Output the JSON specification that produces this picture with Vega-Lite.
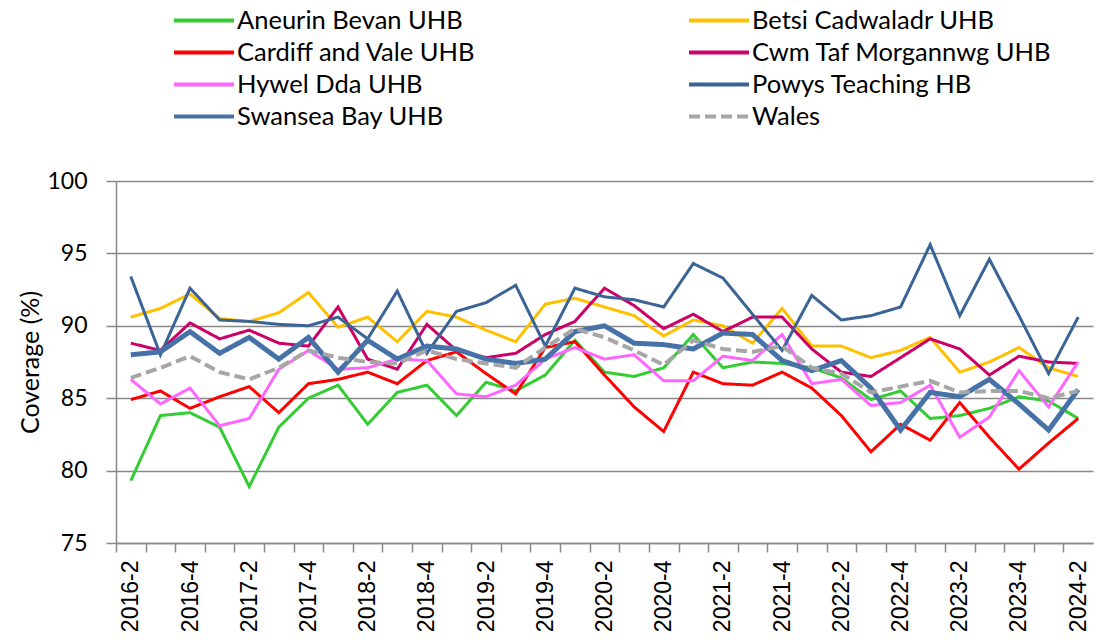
{
  "$schema": "https://vega.github.io/schema/vega-lite/v6.json",
  "width": 977,
  "height": 362,
  "autosize": {"type": "none"},
  "padding": {"left": 116, "top": 181, "right": 4, "bottom": 99},
  "background": "white",
  "config": {"view": {"stroke": null}},
  "data": {"values": [
    {"hb": "Aneurin Bevan UHB", "q": "2016-2", "v": 79.3}, {"hb": "Aneurin Bevan UHB", "q": "2016-3", "v": 83.8}, {"hb": "Aneurin Bevan UHB", "q": "2016-4", "v": 84.0}, {"hb": "Aneurin Bevan UHB", "q": "2017-1", "v": 83.0}, {"hb": "Aneurin Bevan UHB", "q": "2017-2", "v": 78.9}, {"hb": "Aneurin Bevan UHB", "q": "2017-3", "v": 83.0}, {"hb": "Aneurin Bevan UHB", "q": "2017-4", "v": 85.0}, {"hb": "Aneurin Bevan UHB", "q": "2018-1", "v": 85.9}, {"hb": "Aneurin Bevan UHB", "q": "2018-2", "v": 83.2}, {"hb": "Aneurin Bevan UHB", "q": "2018-3", "v": 85.4}, {"hb": "Aneurin Bevan UHB", "q": "2018-4", "v": 85.9}, {"hb": "Aneurin Bevan UHB", "q": "2019-1", "v": 83.8}, {"hb": "Aneurin Bevan UHB", "q": "2019-2", "v": 86.1}, {"hb": "Aneurin Bevan UHB", "q": "2019-3", "v": 85.5}, {"hb": "Aneurin Bevan UHB", "q": "2019-4", "v": 86.6}, {"hb": "Aneurin Bevan UHB", "q": "2020-1", "v": 89.0}, {"hb": "Aneurin Bevan UHB", "q": "2020-2", "v": 86.8}, {"hb": "Aneurin Bevan UHB", "q": "2020-3", "v": 86.5}, {"hb": "Aneurin Bevan UHB", "q": "2020-4", "v": 87.1}, {"hb": "Aneurin Bevan UHB", "q": "2021-1", "v": 89.4}, {"hb": "Aneurin Bevan UHB", "q": "2021-2", "v": 87.1}, {"hb": "Aneurin Bevan UHB", "q": "2021-3", "v": 87.5}, {"hb": "Aneurin Bevan UHB", "q": "2021-4", "v": 87.4}, {"hb": "Aneurin Bevan UHB", "q": "2022-1", "v": 87.1}, {"hb": "Aneurin Bevan UHB", "q": "2022-2", "v": 86.4}, {"hb": "Aneurin Bevan UHB", "q": "2022-3", "v": 84.9}, {"hb": "Aneurin Bevan UHB", "q": "2022-4", "v": 85.5}, {"hb": "Aneurin Bevan UHB", "q": "2023-1", "v": 83.6}, {"hb": "Aneurin Bevan UHB", "q": "2023-2", "v": 83.8}, {"hb": "Aneurin Bevan UHB", "q": "2023-3", "v": 84.3}, {"hb": "Aneurin Bevan UHB", "q": "2023-4", "v": 85.1}, {"hb": "Aneurin Bevan UHB", "q": "2024-1", "v": 84.8}, {"hb": "Aneurin Bevan UHB", "q": "2024-2", "v": 83.6},
    {"hb": "Betsi Cadwaladr UHB", "q": "2016-2", "v": 90.6}, {"hb": "Betsi Cadwaladr UHB", "q": "2016-3", "v": 91.2}, {"hb": "Betsi Cadwaladr UHB", "q": "2016-4", "v": 92.2}, {"hb": "Betsi Cadwaladr UHB", "q": "2017-1", "v": 90.5}, {"hb": "Betsi Cadwaladr UHB", "q": "2017-2", "v": 90.3}, {"hb": "Betsi Cadwaladr UHB", "q": "2017-3", "v": 90.9}, {"hb": "Betsi Cadwaladr UHB", "q": "2017-4", "v": 92.3}, {"hb": "Betsi Cadwaladr UHB", "q": "2018-1", "v": 89.9}, {"hb": "Betsi Cadwaladr UHB", "q": "2018-2", "v": 90.6}, {"hb": "Betsi Cadwaladr UHB", "q": "2018-3", "v": 88.9}, {"hb": "Betsi Cadwaladr UHB", "q": "2018-4", "v": 91.0}, {"hb": "Betsi Cadwaladr UHB", "q": "2019-1", "v": 90.6}, {"hb": "Betsi Cadwaladr UHB", "q": "2019-2", "v": 89.7}, {"hb": "Betsi Cadwaladr UHB", "q": "2019-3", "v": 88.9}, {"hb": "Betsi Cadwaladr UHB", "q": "2019-4", "v": 91.5}, {"hb": "Betsi Cadwaladr UHB", "q": "2020-1", "v": 91.9}, {"hb": "Betsi Cadwaladr UHB", "q": "2020-2", "v": 91.3}, {"hb": "Betsi Cadwaladr UHB", "q": "2020-3", "v": 90.7}, {"hb": "Betsi Cadwaladr UHB", "q": "2020-4", "v": 89.3}, {"hb": "Betsi Cadwaladr UHB", "q": "2021-1", "v": 90.4}, {"hb": "Betsi Cadwaladr UHB", "q": "2021-2", "v": 90.0}, {"hb": "Betsi Cadwaladr UHB", "q": "2021-3", "v": 88.8}, {"hb": "Betsi Cadwaladr UHB", "q": "2021-4", "v": 91.2}, {"hb": "Betsi Cadwaladr UHB", "q": "2022-1", "v": 88.6}, {"hb": "Betsi Cadwaladr UHB", "q": "2022-2", "v": 88.6}, {"hb": "Betsi Cadwaladr UHB", "q": "2022-3", "v": 87.8}, {"hb": "Betsi Cadwaladr UHB", "q": "2022-4", "v": 88.3}, {"hb": "Betsi Cadwaladr UHB", "q": "2023-1", "v": 89.2}, {"hb": "Betsi Cadwaladr UHB", "q": "2023-2", "v": 86.8}, {"hb": "Betsi Cadwaladr UHB", "q": "2023-3", "v": 87.5}, {"hb": "Betsi Cadwaladr UHB", "q": "2023-4", "v": 88.5}, {"hb": "Betsi Cadwaladr UHB", "q": "2024-1", "v": 87.1}, {"hb": "Betsi Cadwaladr UHB", "q": "2024-2", "v": 86.5},
    {"hb": "Cardiff and Vale UHB", "q": "2016-2", "v": 84.9}, {"hb": "Cardiff and Vale UHB", "q": "2016-3", "v": 85.5}, {"hb": "Cardiff and Vale UHB", "q": "2016-4", "v": 84.3}, {"hb": "Cardiff and Vale UHB", "q": "2017-1", "v": 85.1}, {"hb": "Cardiff and Vale UHB", "q": "2017-2", "v": 85.8}, {"hb": "Cardiff and Vale UHB", "q": "2017-3", "v": 84.0}, {"hb": "Cardiff and Vale UHB", "q": "2017-4", "v": 86.0}, {"hb": "Cardiff and Vale UHB", "q": "2018-1", "v": 86.3}, {"hb": "Cardiff and Vale UHB", "q": "2018-2", "v": 86.8}, {"hb": "Cardiff and Vale UHB", "q": "2018-3", "v": 86.0}, {"hb": "Cardiff and Vale UHB", "q": "2018-4", "v": 87.6}, {"hb": "Cardiff and Vale UHB", "q": "2019-1", "v": 88.2}, {"hb": "Cardiff and Vale UHB", "q": "2019-2", "v": 86.7}, {"hb": "Cardiff and Vale UHB", "q": "2019-3", "v": 85.3}, {"hb": "Cardiff and Vale UHB", "q": "2019-4", "v": 88.5}, {"hb": "Cardiff and Vale UHB", "q": "2020-1", "v": 88.9}, {"hb": "Cardiff and Vale UHB", "q": "2020-2", "v": 86.6}, {"hb": "Cardiff and Vale UHB", "q": "2020-3", "v": 84.4}, {"hb": "Cardiff and Vale UHB", "q": "2020-4", "v": 82.7}, {"hb": "Cardiff and Vale UHB", "q": "2021-1", "v": 86.8}, {"hb": "Cardiff and Vale UHB", "q": "2021-2", "v": 86.0}, {"hb": "Cardiff and Vale UHB", "q": "2021-3", "v": 85.9}, {"hb": "Cardiff and Vale UHB", "q": "2021-4", "v": 86.8}, {"hb": "Cardiff and Vale UHB", "q": "2022-1", "v": 85.7}, {"hb": "Cardiff and Vale UHB", "q": "2022-2", "v": 83.8}, {"hb": "Cardiff and Vale UHB", "q": "2022-3", "v": 81.3}, {"hb": "Cardiff and Vale UHB", "q": "2022-4", "v": 83.2}, {"hb": "Cardiff and Vale UHB", "q": "2023-1", "v": 82.1}, {"hb": "Cardiff and Vale UHB", "q": "2023-2", "v": 84.7}, {"hb": "Cardiff and Vale UHB", "q": "2023-3", "v": 82.3}, {"hb": "Cardiff and Vale UHB", "q": "2023-4", "v": 80.1}, {"hb": "Cardiff and Vale UHB", "q": "2024-1", "v": 81.9}, {"hb": "Cardiff and Vale UHB", "q": "2024-2", "v": 83.6},
    {"hb": "Cwm Taf Morgannwg UHB", "q": "2016-2", "v": 88.8}, {"hb": "Cwm Taf Morgannwg UHB", "q": "2016-3", "v": 88.3}, {"hb": "Cwm Taf Morgannwg UHB", "q": "2016-4", "v": 90.2}, {"hb": "Cwm Taf Morgannwg UHB", "q": "2017-1", "v": 89.1}, {"hb": "Cwm Taf Morgannwg UHB", "q": "2017-2", "v": 89.7}, {"hb": "Cwm Taf Morgannwg UHB", "q": "2017-3", "v": 88.8}, {"hb": "Cwm Taf Morgannwg UHB", "q": "2017-4", "v": 88.6}, {"hb": "Cwm Taf Morgannwg UHB", "q": "2018-1", "v": 91.3}, {"hb": "Cwm Taf Morgannwg UHB", "q": "2018-2", "v": 87.7}, {"hb": "Cwm Taf Morgannwg UHB", "q": "2018-3", "v": 87.0}, {"hb": "Cwm Taf Morgannwg UHB", "q": "2018-4", "v": 90.1}, {"hb": "Cwm Taf Morgannwg UHB", "q": "2019-1", "v": 88.3}, {"hb": "Cwm Taf Morgannwg UHB", "q": "2019-2", "v": 87.8}, {"hb": "Cwm Taf Morgannwg UHB", "q": "2019-3", "v": 88.1}, {"hb": "Cwm Taf Morgannwg UHB", "q": "2019-4", "v": 89.4}, {"hb": "Cwm Taf Morgannwg UHB", "q": "2020-1", "v": 90.3}, {"hb": "Cwm Taf Morgannwg UHB", "q": "2020-2", "v": 92.6}, {"hb": "Cwm Taf Morgannwg UHB", "q": "2020-3", "v": 91.4}, {"hb": "Cwm Taf Morgannwg UHB", "q": "2020-4", "v": 89.8}, {"hb": "Cwm Taf Morgannwg UHB", "q": "2021-1", "v": 90.8}, {"hb": "Cwm Taf Morgannwg UHB", "q": "2021-2", "v": 89.6}, {"hb": "Cwm Taf Morgannwg UHB", "q": "2021-3", "v": 90.6}, {"hb": "Cwm Taf Morgannwg UHB", "q": "2021-4", "v": 90.6}, {"hb": "Cwm Taf Morgannwg UHB", "q": "2022-1", "v": 88.4}, {"hb": "Cwm Taf Morgannwg UHB", "q": "2022-2", "v": 86.8}, {"hb": "Cwm Taf Morgannwg UHB", "q": "2022-3", "v": 86.5}, {"hb": "Cwm Taf Morgannwg UHB", "q": "2022-4", "v": 87.8}, {"hb": "Cwm Taf Morgannwg UHB", "q": "2023-1", "v": 89.1}, {"hb": "Cwm Taf Morgannwg UHB", "q": "2023-2", "v": 88.4}, {"hb": "Cwm Taf Morgannwg UHB", "q": "2023-3", "v": 86.6}, {"hb": "Cwm Taf Morgannwg UHB", "q": "2023-4", "v": 87.9}, {"hb": "Cwm Taf Morgannwg UHB", "q": "2024-1", "v": 87.5}, {"hb": "Cwm Taf Morgannwg UHB", "q": "2024-2", "v": 87.4},
    {"hb": "Hywel Dda UHB", "q": "2016-2", "v": 86.3}, {"hb": "Hywel Dda UHB", "q": "2016-3", "v": 84.6}, {"hb": "Hywel Dda UHB", "q": "2016-4", "v": 85.7}, {"hb": "Hywel Dda UHB", "q": "2017-1", "v": 83.1}, {"hb": "Hywel Dda UHB", "q": "2017-2", "v": 83.6}, {"hb": "Hywel Dda UHB", "q": "2017-3", "v": 87.0}, {"hb": "Hywel Dda UHB", "q": "2017-4", "v": 88.3}, {"hb": "Hywel Dda UHB", "q": "2018-1", "v": 87.0}, {"hb": "Hywel Dda UHB", "q": "2018-2", "v": 87.1}, {"hb": "Hywel Dda UHB", "q": "2018-3", "v": 87.7}, {"hb": "Hywel Dda UHB", "q": "2018-4", "v": 87.6}, {"hb": "Hywel Dda UHB", "q": "2019-1", "v": 85.3}, {"hb": "Hywel Dda UHB", "q": "2019-2", "v": 85.1}, {"hb": "Hywel Dda UHB", "q": "2019-3", "v": 85.9}, {"hb": "Hywel Dda UHB", "q": "2019-4", "v": 87.7}, {"hb": "Hywel Dda UHB", "q": "2020-1", "v": 88.5}, {"hb": "Hywel Dda UHB", "q": "2020-2", "v": 87.7}, {"hb": "Hywel Dda UHB", "q": "2020-3", "v": 88.0}, {"hb": "Hywel Dda UHB", "q": "2020-4", "v": 86.2}, {"hb": "Hywel Dda UHB", "q": "2021-1", "v": 86.2}, {"hb": "Hywel Dda UHB", "q": "2021-2", "v": 87.9}, {"hb": "Hywel Dda UHB", "q": "2021-3", "v": 87.6}, {"hb": "Hywel Dda UHB", "q": "2021-4", "v": 89.4}, {"hb": "Hywel Dda UHB", "q": "2022-1", "v": 86.0}, {"hb": "Hywel Dda UHB", "q": "2022-2", "v": 86.3}, {"hb": "Hywel Dda UHB", "q": "2022-3", "v": 84.5}, {"hb": "Hywel Dda UHB", "q": "2022-4", "v": 84.7}, {"hb": "Hywel Dda UHB", "q": "2023-1", "v": 85.9}, {"hb": "Hywel Dda UHB", "q": "2023-2", "v": 82.3}, {"hb": "Hywel Dda UHB", "q": "2023-3", "v": 83.7}, {"hb": "Hywel Dda UHB", "q": "2023-4", "v": 86.9}, {"hb": "Hywel Dda UHB", "q": "2024-1", "v": 84.4}, {"hb": "Hywel Dda UHB", "q": "2024-2", "v": 87.5},
    {"hb": "Powys Teaching HB", "q": "2016-2", "v": 93.4}, {"hb": "Powys Teaching HB", "q": "2016-3", "v": 88.0}, {"hb": "Powys Teaching HB", "q": "2016-4", "v": 92.6}, {"hb": "Powys Teaching HB", "q": "2017-1", "v": 90.4}, {"hb": "Powys Teaching HB", "q": "2017-2", "v": 90.3}, {"hb": "Powys Teaching HB", "q": "2017-3", "v": 90.1}, {"hb": "Powys Teaching HB", "q": "2017-4", "v": 90.0}, {"hb": "Powys Teaching HB", "q": "2018-1", "v": 90.6}, {"hb": "Powys Teaching HB", "q": "2018-2", "v": 89.1}, {"hb": "Powys Teaching HB", "q": "2018-3", "v": 92.4}, {"hb": "Powys Teaching HB", "q": "2018-4", "v": 88.1}, {"hb": "Powys Teaching HB", "q": "2019-1", "v": 91.0}, {"hb": "Powys Teaching HB", "q": "2019-2", "v": 91.6}, {"hb": "Powys Teaching HB", "q": "2019-3", "v": 92.8}, {"hb": "Powys Teaching HB", "q": "2019-4", "v": 88.6}, {"hb": "Powys Teaching HB", "q": "2020-1", "v": 92.6}, {"hb": "Powys Teaching HB", "q": "2020-2", "v": 92.0}, {"hb": "Powys Teaching HB", "q": "2020-3", "v": 91.8}, {"hb": "Powys Teaching HB", "q": "2020-4", "v": 91.3}, {"hb": "Powys Teaching HB", "q": "2021-1", "v": 94.3}, {"hb": "Powys Teaching HB", "q": "2021-2", "v": 93.3}, {"hb": "Powys Teaching HB", "q": "2021-3", "v": 90.8}, {"hb": "Powys Teaching HB", "q": "2021-4", "v": 88.3}, {"hb": "Powys Teaching HB", "q": "2022-1", "v": 92.1}, {"hb": "Powys Teaching HB", "q": "2022-2", "v": 90.4}, {"hb": "Powys Teaching HB", "q": "2022-3", "v": 90.7}, {"hb": "Powys Teaching HB", "q": "2022-4", "v": 91.3}, {"hb": "Powys Teaching HB", "q": "2023-1", "v": 95.6}, {"hb": "Powys Teaching HB", "q": "2023-2", "v": 90.7}, {"hb": "Powys Teaching HB", "q": "2023-3", "v": 94.6}, {"hb": "Powys Teaching HB", "q": "2023-4", "v": 90.7}, {"hb": "Powys Teaching HB", "q": "2024-1", "v": 86.7}, {"hb": "Powys Teaching HB", "q": "2024-2", "v": 90.6},
    {"hb": "Swansea Bay UHB", "q": "2016-2", "v": 88.0}, {"hb": "Swansea Bay UHB", "q": "2016-3", "v": 88.2}, {"hb": "Swansea Bay UHB", "q": "2016-4", "v": 89.6}, {"hb": "Swansea Bay UHB", "q": "2017-1", "v": 88.1}, {"hb": "Swansea Bay UHB", "q": "2017-2", "v": 89.2}, {"hb": "Swansea Bay UHB", "q": "2017-3", "v": 87.7}, {"hb": "Swansea Bay UHB", "q": "2017-4", "v": 89.2}, {"hb": "Swansea Bay UHB", "q": "2018-1", "v": 86.8}, {"hb": "Swansea Bay UHB", "q": "2018-2", "v": 89.0}, {"hb": "Swansea Bay UHB", "q": "2018-3", "v": 87.7}, {"hb": "Swansea Bay UHB", "q": "2018-4", "v": 88.6}, {"hb": "Swansea Bay UHB", "q": "2019-1", "v": 88.4}, {"hb": "Swansea Bay UHB", "q": "2019-2", "v": 87.7}, {"hb": "Swansea Bay UHB", "q": "2019-3", "v": 87.4}, {"hb": "Swansea Bay UHB", "q": "2019-4", "v": 87.7}, {"hb": "Swansea Bay UHB", "q": "2020-1", "v": 89.6}, {"hb": "Swansea Bay UHB", "q": "2020-2", "v": 90.0}, {"hb": "Swansea Bay UHB", "q": "2020-3", "v": 88.8}, {"hb": "Swansea Bay UHB", "q": "2020-4", "v": 88.7}, {"hb": "Swansea Bay UHB", "q": "2021-1", "v": 88.4}, {"hb": "Swansea Bay UHB", "q": "2021-2", "v": 89.5}, {"hb": "Swansea Bay UHB", "q": "2021-3", "v": 89.4}, {"hb": "Swansea Bay UHB", "q": "2021-4", "v": 87.6}, {"hb": "Swansea Bay UHB", "q": "2022-1", "v": 86.9}, {"hb": "Swansea Bay UHB", "q": "2022-2", "v": 87.6}, {"hb": "Swansea Bay UHB", "q": "2022-3", "v": 85.7}, {"hb": "Swansea Bay UHB", "q": "2022-4", "v": 82.8}, {"hb": "Swansea Bay UHB", "q": "2023-1", "v": 85.4}, {"hb": "Swansea Bay UHB", "q": "2023-2", "v": 85.1}, {"hb": "Swansea Bay UHB", "q": "2023-3", "v": 86.3}, {"hb": "Swansea Bay UHB", "q": "2023-4", "v": 84.6}, {"hb": "Swansea Bay UHB", "q": "2024-1", "v": 82.8}, {"hb": "Swansea Bay UHB", "q": "2024-2", "v": 85.6},
    {"hb": "Wales", "q": "2016-2", "v": 86.4}, {"hb": "Wales", "q": "2016-3", "v": 87.1}, {"hb": "Wales", "q": "2016-4", "v": 87.9}, {"hb": "Wales", "q": "2017-1", "v": 86.8}, {"hb": "Wales", "q": "2017-2", "v": 86.3}, {"hb": "Wales", "q": "2017-3", "v": 87.1}, {"hb": "Wales", "q": "2017-4", "v": 88.3}, {"hb": "Wales", "q": "2018-1", "v": 87.8}, {"hb": "Wales", "q": "2018-2", "v": 87.5}, {"hb": "Wales", "q": "2018-3", "v": 87.4}, {"hb": "Wales", "q": "2018-4", "v": 88.3}, {"hb": "Wales", "q": "2019-1", "v": 87.7}, {"hb": "Wales", "q": "2019-2", "v": 87.4}, {"hb": "Wales", "q": "2019-3", "v": 87.1}, {"hb": "Wales", "q": "2019-4", "v": 88.5}, {"hb": "Wales", "q": "2020-1", "v": 89.8}, {"hb": "Wales", "q": "2020-2", "v": 89.2}, {"hb": "Wales", "q": "2020-3", "v": 88.3}, {"hb": "Wales", "q": "2020-4", "v": 87.3}, {"hb": "Wales", "q": "2021-1", "v": 89.0}, {"hb": "Wales", "q": "2021-2", "v": 88.4}, {"hb": "Wales", "q": "2021-3", "v": 88.2}, {"hb": "Wales", "q": "2021-4", "v": 88.6}, {"hb": "Wales", "q": "2022-1", "v": 87.1}, {"hb": "Wales", "q": "2022-2", "v": 86.7}, {"hb": "Wales", "q": "2022-3", "v": 85.4}, {"hb": "Wales", "q": "2022-4", "v": 85.8}, {"hb": "Wales", "q": "2023-1", "v": 86.2}, {"hb": "Wales", "q": "2023-2", "v": 85.4}, {"hb": "Wales", "q": "2023-3", "v": 85.5}, {"hb": "Wales", "q": "2023-4", "v": 85.5}, {"hb": "Wales", "q": "2024-1", "v": 85.0}, {"hb": "Wales", "q": "2024-2", "v": 85.5}
  ]},
  "encoding": {
    "x": {
      "field": "q", "type": "ordinal",
      "scale": {"type": "point", "padding": 0.5},
      "axis": {
        "title": null, "labelAngle": -90, "labelAlign": "right", "labelBaseline": "middle",
        "labelFont": "Liberation Sans", "labelFontSize": 23, "labelColor": "black", "labelPadding": 8,
        "labelOverlap": false,
        "labelExpr": "(slice(datum.value, -1) == '2' || slice(datum.value, -1) == '4') ? datum.value : ''",
        "tickOffset": -14.8, "labelOffset": 14.8,
        "tickSize": 9, "tickColor": "#888888", "tickWidth": 1.5,
        "domainColor": "#888888", "domainWidth": 1.5, "grid": false
      }
    },
    "y": {
      "field": "v", "type": "quantitative",
      "scale": {"domain": [75, 100], "nice": false, "zero": false},
      "axis": {
        "title": "Coverage (%)", "titleFont": "Lato", "titleFontSize": 25, "titleFontWeight": "normal", "titleColor": "black", "titlePadding": 3,
        "values": [75, 80, 85, 90, 95, 100],
        "grid": true, "gridColor": "#888888", "gridWidth": 1.5,
        "tickSize": 10, "tickColor": "#888888", "tickWidth": 1.5,
        "domainColor": "#888888", "domainWidth": 1.5,
        "labelFont": "Lato", "labelFontSize": 23, "labelColor": "black", "labelPadding": 19
      }
    },
    "color": {
      "field": "hb", "type": "nominal",
      "scale": {
        "domain": ["Aneurin Bevan UHB", "Betsi Cadwaladr UHB", "Cardiff and Vale UHB", "Cwm Taf Morgannwg UHB", "Hywel Dda UHB", "Powys Teaching HB", "Swansea Bay UHB", "Wales"],
        "range": ["#33CC33", "#FFC000", "#FF0000", "#CC0066", "#FF66FF", "#3A6396", "#4672A8", "#A6A6A6"]
      },
      "legend": {
        "title": null, "orient": "none", "direction": "horizontal", "legendX": 56, "legendY": -173, "columns": 2, "columnPadding": 211, "rowPadding": 6,
        "symbolType": "stroke", "symbolSize": 3600, "symbolStrokeWidth": 4, "clipHeight": 25,
        "labelFont": "Lato", "labelFontSize": 25.5, "labelColor": "black", "labelOffset": 1, "labelLimit": 500
      }
    },
    "strokeDash": {
      "field": "hb", "type": "nominal",
      "scale": {
        "domain": ["Aneurin Bevan UHB", "Betsi Cadwaladr UHB", "Cardiff and Vale UHB", "Cwm Taf Morgannwg UHB", "Hywel Dda UHB", "Powys Teaching HB", "Swansea Bay UHB", "Wales"],
        "range": [[1, 0], [1, 0], [1, 0], [1, 0], [1, 0], [1, 0], [1, 0], [11, 5]]
      }
    }
  },
  "layer": [
    {
      "transform": [{"filter": "datum.hb != 'Swansea Bay UHB' && datum.hb != 'Wales'"}],
      "mark": {"type": "line", "strokeWidth": 3},
      "encoding": {}
    },
    {
      "transform": [{"filter": "datum.hb == 'Swansea Bay UHB'"}],
      "mark": {"type": "line", "strokeWidth": 5},
      "encoding": {}
    },
    {
      "transform": [{"filter": "datum.hb == 'Wales'"}],
      "mark": {"type": "line", "strokeWidth": 4},
      "encoding": {}
    }
  ]
}
